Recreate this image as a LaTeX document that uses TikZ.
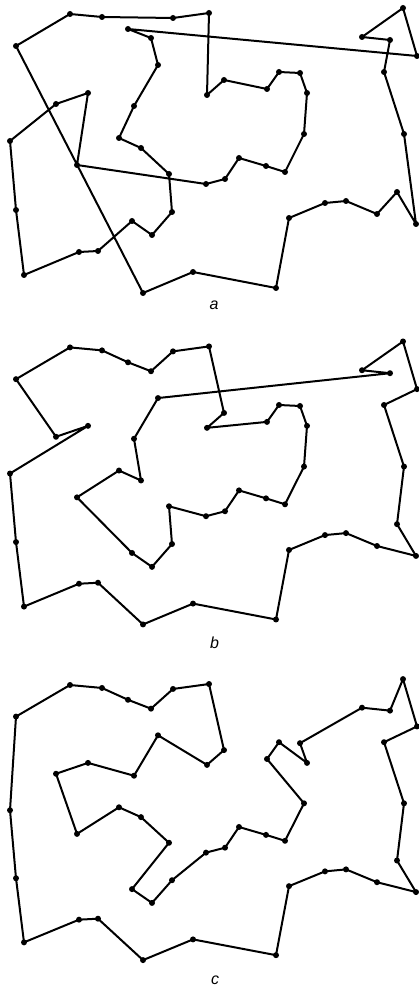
\documentclass[tikz,border=0pt]{standalone}
\usepackage{fontspec}
\newfontfamily\lblfont{Liberation Sans}
\begin{document}
\begin{tikzpicture}[x=0.75pt,y=-0.75pt,
  tour/.style={line width=1.5pt,line join=round,black},
  dot/.style={fill=black},
  lbl/.style={font=\lblfont\itshape\fontsize{12}{12}\selectfont,inner sep=0pt,anchor=base}]
\useasboundingbox (0,0) rectangle (418,987);
\def\pts{70/14,102/17,173/18,209/13,128/29,151/38,158/65,134/106,119/138,141/148,%
16/46,88/93,56/104,10/141,207/95,403/8,362/37,390/40,417/56,384/72,%
224/80,267/89,279/72,300/73,307/93,304/134,404/134,239/158,77/165,169/174,%
206/184,16/210,172/212,132/221,152/235,79/252,98/251,24/275,143/293,193/272,%
225/179,266/166,285/172,289/218,325/203,346/201,377/214,397/192,416/224,276/288}
\foreach [count=\i] \x/\y in \pts {
  \coordinate (a\i) at (\x,\y);
  \coordinate (b\i) at (\x,{333.5+0.993*\y});
  \coordinate (c\i) at (\x,{671.2+0.986*\y});
}
% tour a
\draw[tour] (a1) \foreach \k in {2,3,4,15,21,22,23,24,25,26,43,42,28,41,31,29,12,13,14,32,38,36,37,34,35,33,30,10,9,8,7,6,5,19,16,17,18,20,27,49,48,47,46,45,44,50,40,39,11} {-- (a\k)} -- cycle;
% tour b
\draw[tour] (b1) \foreach \k in {2,5,6,3,4,21,15,22,23,24,25,26,43,42,28,41,31,30,33,35,34,29,9,10,8,7,18,17,16,19,20,27,48,49,47,46,45,44,50,40,39,37,36,38,32,14,12,13,11} {-- (b\k)} -- cycle;
% tour c
\draw[tour] (c1) \foreach \k in {2,5,6,3,4,21,15,7,8,12,13,29,9,10,30,34,35,33,31,41,28,42,43,26,22,23,25,24,17,18,16,19,20,27,48,49,47,46,45,44,50,40,39,37,36,38,32,14,11} {-- (c\k)} -- cycle;
\foreach \p in {a,b,c}{
  \foreach \i in {1,...,50} { \fill[dot] (\p\i) circle (3); }
}
\node[lbl] (la) at (214,309) {a};
\node[lbl] (lb) at (214.5,648) {b};
\node[lbl] (lc) at (215,984) {c};
\end{tikzpicture}
\end{document}
